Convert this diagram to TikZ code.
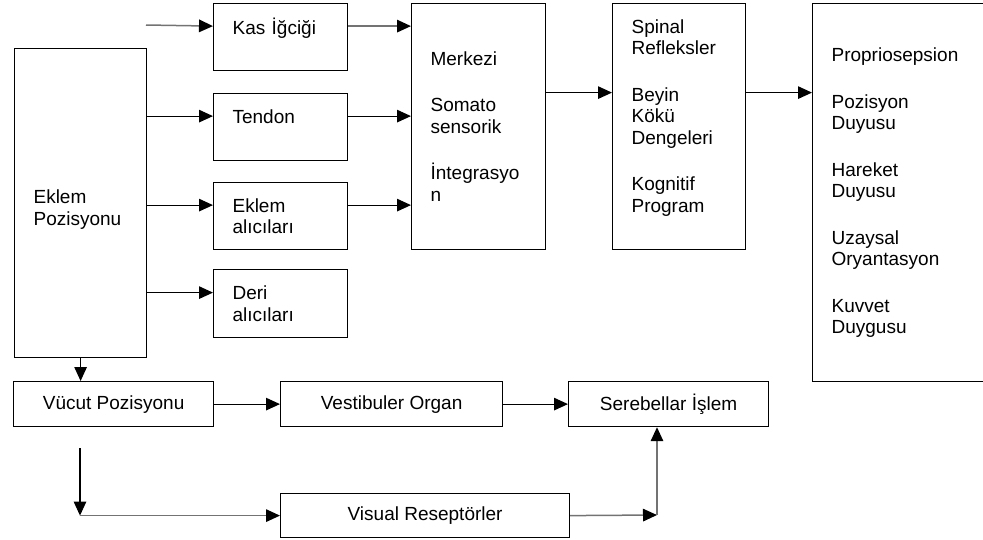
\documentclass[tikz,border=0pt]{standalone}
\usepackage{fontspec}
\setmainfont{Liberation Sans}
\usetikzlibrary{arrows.meta,calc,positioning}
\tikzset{
  box/.style={draw, line width=1.2pt, inner sep=0pt, anchor=north west,
    font=\fontsize{19}{21.5}\selectfont},
  tbox/.style={box, align=left, inner xsep=19pt, text width=96pt},
  sbox/.style={box, minimum height=45pt},
  arr/.style={line width=1.2pt, -{Triangle[length=14pt,width=12.5pt]}},
  arrg/.style={arr, line width=1.5pt, draw=black!55, -{Triangle[length=14pt,width=12.5pt,color=black]}}
}
\newcommand{\gap}{\\[25pt]}

\begin{document}
\begin{tikzpicture}[x=1pt,y=-1pt]
\clip (0,0) rectangle (983,539);

% left column
\node[tbox, text width=94pt, minimum height=309pt] (ep) at (14,48) {\rule{0pt}{27pt}Eklem\\Pozisyonu};
\node[tbox, minimum height=67pt] (kas) at (213,3) {Kas İğciği\\\mbox{}};
\node[tbox, minimum height=67pt] (tn) at (213,93) {Tendon\\\mbox{}};
\node[tbox, minimum height=67pt] (ea) at (213,182) {Eklem\\alıcıları};
\node[tbox, minimum height=68pt] (dr) at (213,269) {Deri\\alıcıları};

% middle and right
\node[tbox, minimum height=246pt] (mz) at (411,3)
  {Merkezi\gap Somato\\sensorik\gap İntegrasyo\\n};
\node[tbox, text width=95pt, minimum height=246pt] (sp) at (612,3)
  {Spinal\\Refleksler\gap Beyin\\Kökü\\Dengeleri\gap Kognitif\\Program\\\mbox{}};
\node[tbox, text width=170pt, minimum height=378pt] (pp) at (812,3)
  {Propriosepsion\gap Pozisyon\\Duyusu\gap Hareket\\Duyusu\gap
   Uzaysal\\Oryantasyon\gap Kuvvet\\Duygusu};

% bottom row
\node[sbox, minimum width=200pt] (vc) at (13,381) {Vücut Pozisyonu};
\node[sbox, minimum width=222pt] (vs) at (280,381) {Vestibuler Organ};
\node[sbox, minimum width=200pt] (sb) at (568,381) {Serebellar İşlem};
\node[sbox, minimum width=289pt, minimum height=44pt] (vr) at (280,493) {Visual Reseptörler};

\coordinate (in) at (146,25);
\coordinate (dn) at (80,448);
\coordinate (up) at (657,515);

\draw[arrg] (in) -- ($(kas.west)+(0,-11)$);
\foreach \n in {tn,ea,dr}
  \draw[arr] ($(\n.west -| ep.east)+(0,-11)$) -- ($(\n.west)+(0,-11)$);
\draw[arrg] ($(kas.east)+(0,-11)$) -- ($(kas.east -| mz.west)+(0,-11)$);
\foreach \n in {tn,ea}
  \draw[arr] ($(\n.east)+(0,-11)$) -- ($(\n.east -| mz.west)+(0,-11)$);
\draw[arr] ($(mz.east)+(0,-34)$) -- ($(sp.west)+(0,-34)$);
\draw[arr] ($(sp.east)+(0,-34)$) -- ($(sp.east -| pp.west)+(0,-34)$);

\draw[arr] (ep.south) -- (ep.south |- vc.north);
\draw[arr] (vc) -- (vs);
\draw[arr] (vs) -- (sb);
\draw[arr] (dn) -- (dn |- vr.west);
\draw[arrg] (dn |- vr.west) -- (vr.west);
\draw[arrg] (vr.east) -- (up);
\draw[arrg] (up) -- (up |- sb.south);
\end{tikzpicture}
\end{document}
